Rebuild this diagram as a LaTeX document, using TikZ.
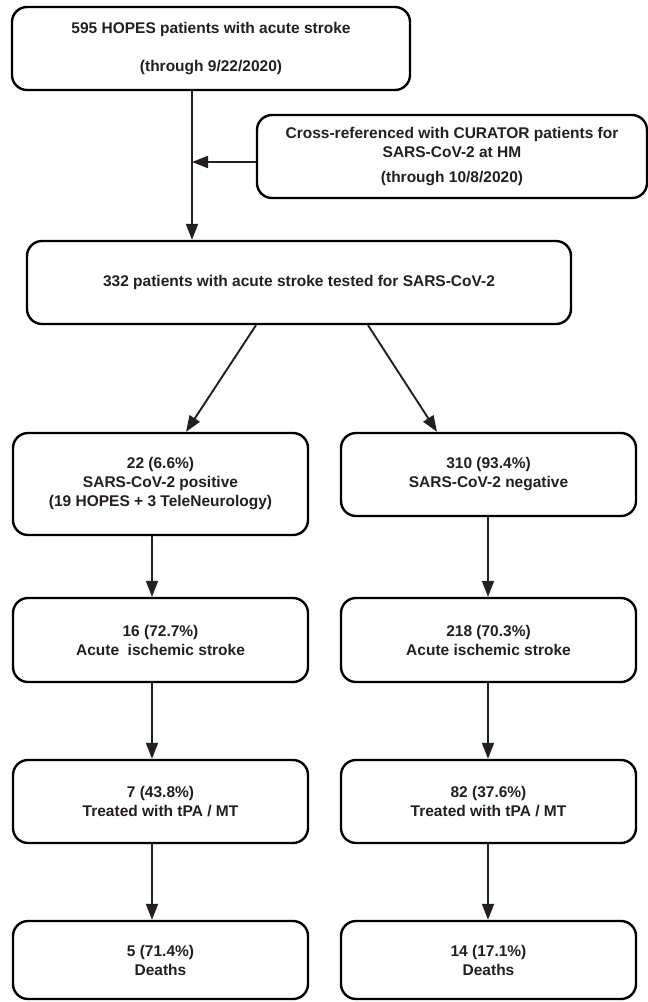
\documentclass[tikz,border=0pt]{standalone}
\usepackage{fontspec}
\setmainfont{Liberation Sans}
\usetikzlibrary{arrows.meta,calc}
\definecolor{ink}{RGB}{35,31,32}
\begin{document}
\begin{tikzpicture}[x=1pt,y=-1pt,
  box/.style={draw=black, line width=2.4pt, rounded corners=15pt, align=center, inner sep=0pt,
    font=\bfseries\fontsize{15.5}{19}\selectfont, text=ink},
  arr/.style={draw=ink, line width=1.9pt, -{Triangle[length=16pt,width=12pt]}}
]
\useasboundingbox (0,0) rectangle (648,1002);

\node[box, minimum width=398, minimum height=83] (top) at (211,48.5)
  {595 HOPES patients with acute stroke\\[19pt](through 9/22/2020)};
\node[box, minimum width=390, minimum height=83] (side) at (452,156.5)
  {Cross-referenced with CURATOR patients for\\SARS-CoV-2 at HM\\[6pt](through 10/8/2020)};
\node[box, minimum width=544, minimum height=83] (tested) at (299,282.5)
  {332 patients with acute stroke tested for SARS-CoV-2};

\node[box, minimum width=295, minimum height=102] (pos) at (160.5,484)
  {22 (6.6\%)\\SARS-CoV-2 positive\\(19 HOPES + 3 TeleNeurology)};
\node[box, minimum width=295, minimum height=83] (neg) at (488.5,474.5)
  {310 (93.4\%)\\SARS-CoV-2 negative};

\node[box, minimum width=295, minimum height=84] (aisl) at (160.5,640)
  {16 (72.7\%)\\Acute\ \ ischemic stroke};
\node[box, minimum width=295, minimum height=84] (aisr) at (488.5,640)
  {218 (70.3\%)\\Acute ischemic stroke};

\node[box, minimum width=295, minimum height=83] (tpal) at (160.5,801.5)
  {7 (43.8\%)\\Treated with tPA / MT};
\node[box, minimum width=295, minimum height=83] (tpar) at (488.5,801.5)
  {82 (37.6\%)\\Treated with tPA / MT};

\node[box, minimum width=295, minimum height=78] (dthl) at (160.5,960)
  {5 (71.4\%)\\Deaths};
\node[box, minimum width=295, minimum height=78] (dthr) at (488.5,960)
  {14 (17.1\%)\\Deaths};

\coordinate (vx) at (192,0);
\coordinate (lx) at (152,0);
\coordinate (rx) at (488,0);

\draw[arr] (top.south -| vx) -- (tested.north -| vx);
\draw[arr] ([yshift=-5.5pt]side.west) -- ([yshift=-5.5pt]side.west -| vx);
\draw[arr] ([xshift=-43pt]tested.south) -- ([xshift=25.5pt]pos.north);
\draw[arr] ([xshift=69pt]tested.south) -- ([xshift=-51.5pt]neg.north);

\draw[arr] (pos.south -| lx) -- (aisl.north -| lx);
\draw[arr] (aisl.south -| lx) -- (tpal.north -| lx);
\draw[arr] (tpal.south -| lx) -- (dthl.north -| lx);
\draw[arr] (neg.south -| rx) -- (aisr.north -| rx);
\draw[arr] (aisr.south -| rx) -- (tpar.north -| rx);
\draw[arr] (tpar.south -| rx) -- (dthr.north -| rx);
\end{tikzpicture}
\end{document}
